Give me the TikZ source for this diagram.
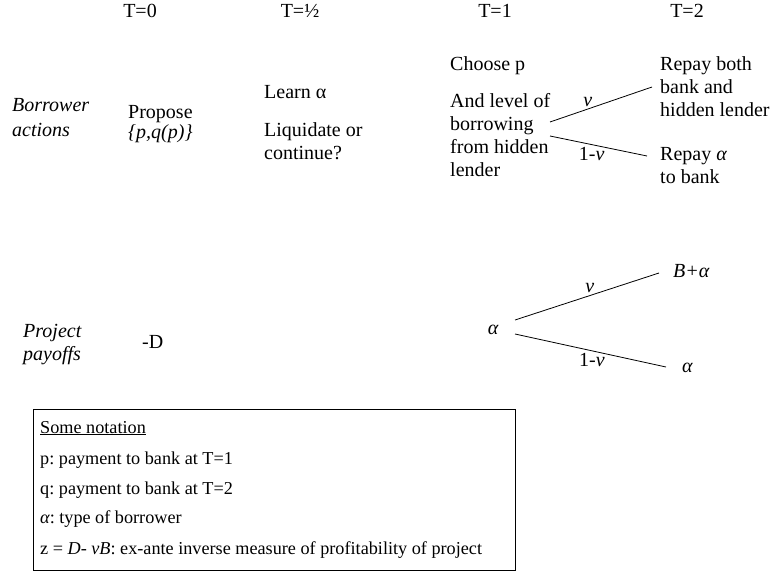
\documentclass[tikz,border=0pt]{standalone}
\usepackage{fontspec}
\setmainfont{Liberation Serif}
\usetikzlibrary{positioning}
\tikzstyle{txt} = [anchor=base west, inner sep=0pt, font=\fontsize{20}{24}\selectfont]
\tikzstyle{hdr} = [anchor=base, inner sep=0pt, font=\fontsize{20}{24}\selectfont]
\tikzstyle{note} = [anchor=base west, inner sep=0pt, font=\fontsize{18.2}{21}\selectfont]
\tikzstyle{prob} = [inner sep=2pt, font=\fontsize{20}{24}\selectfont]
\tikzstyle{branch} = [line width=0.8pt]

\begin{document}
\frenchspacing
\begin{tikzpicture}[x=1pt, y=-1pt]
            \useasboundingbox (0,0) rectangle (773,575);
            \node[hdr] (t0) at (140,18) {T=0};
            \node[hdr] (thalf) at (300,18) {T=½};
            \node[hdr] (t1) at (495,18) {T=1};
            \node[hdr] (t2) at (687,18) {T=2};
            \node[txt] (borrower) at (12,112) {\itshape Borrower};
            \node[txt] (actions) at (12,136) {\itshape actions};
            \node[txt] (propose) at (128,119) {Propose};
            \node[txt] (offer) at (128,139) {\itshape \{p,q(p)\}};
            \node[txt] (learn) at (264,99) {Learn α};
            \node[txt] (liquidate) at (264,136) {Liquidate or};
            \node[txt] (continue) at (264,159) {continue?};
            \node[txt] (choose) at (450,71) {Choose p};
            \node[txt] (level) at (450,107) {And level of};
            \node[txt] (borrowing) at (450,130) {borrowing};
            \node[txt] (fromhidden) at (450,153) {from hidden};
            \node[txt] (lender) at (450,176) {lender};
            \node[txt] (repayboth) at (660,71) {Repay both};
            \node[txt] (bankand) at (660,94) {bank and};
            \node[txt] (hiddenlender) at (660,117) {hidden lender};
            \node[txt] (repayalpha) at (660,160) {Repay {\itshape α}};
            \node[txt] (tobank) at (660,183) {to bank};
            \coordinate (fk1) at (550,122);
            \coordinate (fk2) at (550,136);
            \coordinate (up1) at (652,87);
            \coordinate (dn1) at (647,156);
            \draw[branch] (fk1) -- node[prob, above, pos=0.37] {\itshape ν} (up1);
            \draw[branch] (fk2) -- node[prob, below, pos=0.43] {1-{\itshape ν}} (dn1);
            \node[txt] (project) at (23,337) {\itshape Project};
            \node[txt] (payoffs) at (23,360) {\itshape payoffs};
            \node[txt] (minusd) at (142,348) {-D};
            \node[hdr] (root) at (493,334) {\itshape α};
            \coordinate (rt1) at (515,320);
            \coordinate (rt2) at (515,334);
            \coordinate (hi) at (659,273);
            \coordinate (lo) at (666,367);
            \draw[branch] (rt1) -- node[prob, above, pos=0.52] {\itshape ν} (hi);
            \draw[branch] (rt2) -- node[prob, below, pos=0.51] {1-{\itshape ν}} (lo);
            \node[txt] (bplus) at (673,277) {\itshape B+α};
            \node[txt] (leaf) at (682,372) {\itshape α};
            \draw[line width=0.8pt] (33,409) rectangle (515,570);
            \node[note] (notetitle) at (40,433) {\underline{Some notation}};
            \node[note] (notep) at (40,464) {p: payment to bank at T=1};
            \node[note] (noteq) at (40,494) {q: payment to bank at T=2};
            \node[note] (notea) at (40,523) {{\itshape α}: type of borrower};
            \node[note] (notez) at (40,554) {z = {\itshape D}- {\itshape νB}: ex-ante inverse measure of profitability of project};
        \end{tikzpicture}
\end{document}
